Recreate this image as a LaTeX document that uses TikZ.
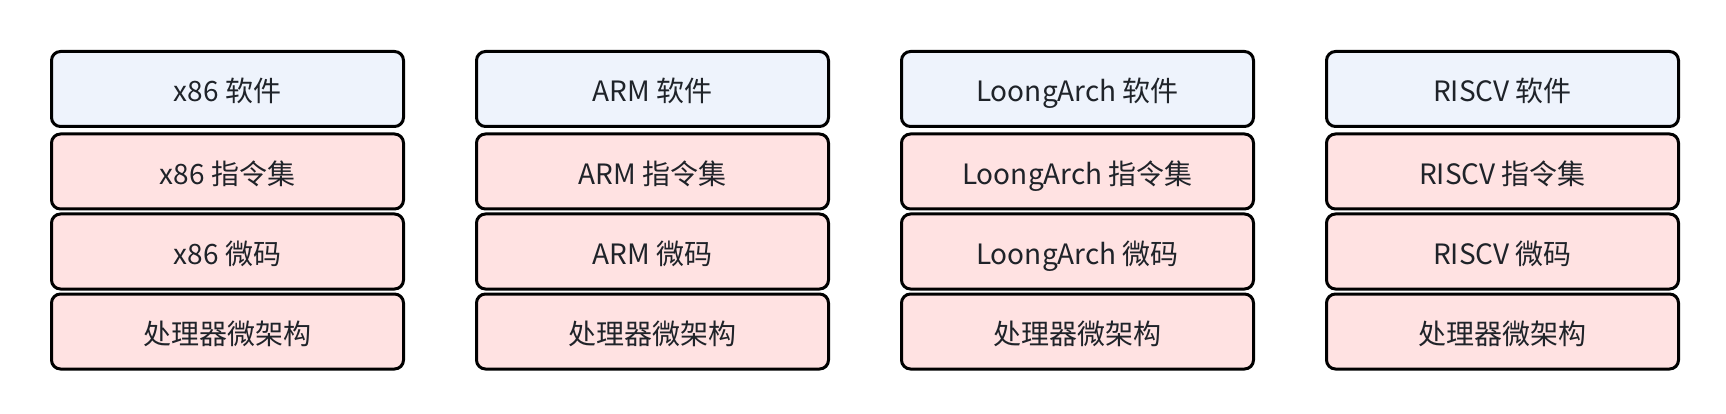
\documentclass[tikz,border=0pt]{standalone}
\usepackage{fontspec}
\setmainfont{Noto Sans CJK SC}
\definecolor{swfill}{HTML}{EEF3FC}
\definecolor{hwfill}{HTML}{FFE2E2}
\definecolor{txt}{HTML}{1F2329}
\begin{document}
\begin{tikzpicture}[x=1pt,y=-1pt,
  layer/.style={draw=black, line width=3pt, rounded corners=9pt, minimum width=352pt, minimum height=75pt, inner sep=0pt, text=txt, font=\fontsize{28}{32}\selectfont, text height=28pt, text depth=2pt, anchor=north west},
  sw/.style={layer, fill=swfill},
  hw/.style={layer, fill=hwfill}]
\useasboundingbox (0,0) rectangle (1726,414);
\foreach \i/\n/\x in {1/x86/50, 2/ARM/475, 3/LoongArch/900, 4/RISCV/1325} {
  \node[sw] (s\i) at (\x,50) {\n{} 软件};
  \node[hw] (a\i) at (\x,132.5) {\n{} 指令集};
  \node[hw] (m\i) at (\x,212.5) {\n{} 微码};
  \node[hw] (p\i) at (\x,292.5) {处理器微架构};
}
\end{tikzpicture}
\end{document}
